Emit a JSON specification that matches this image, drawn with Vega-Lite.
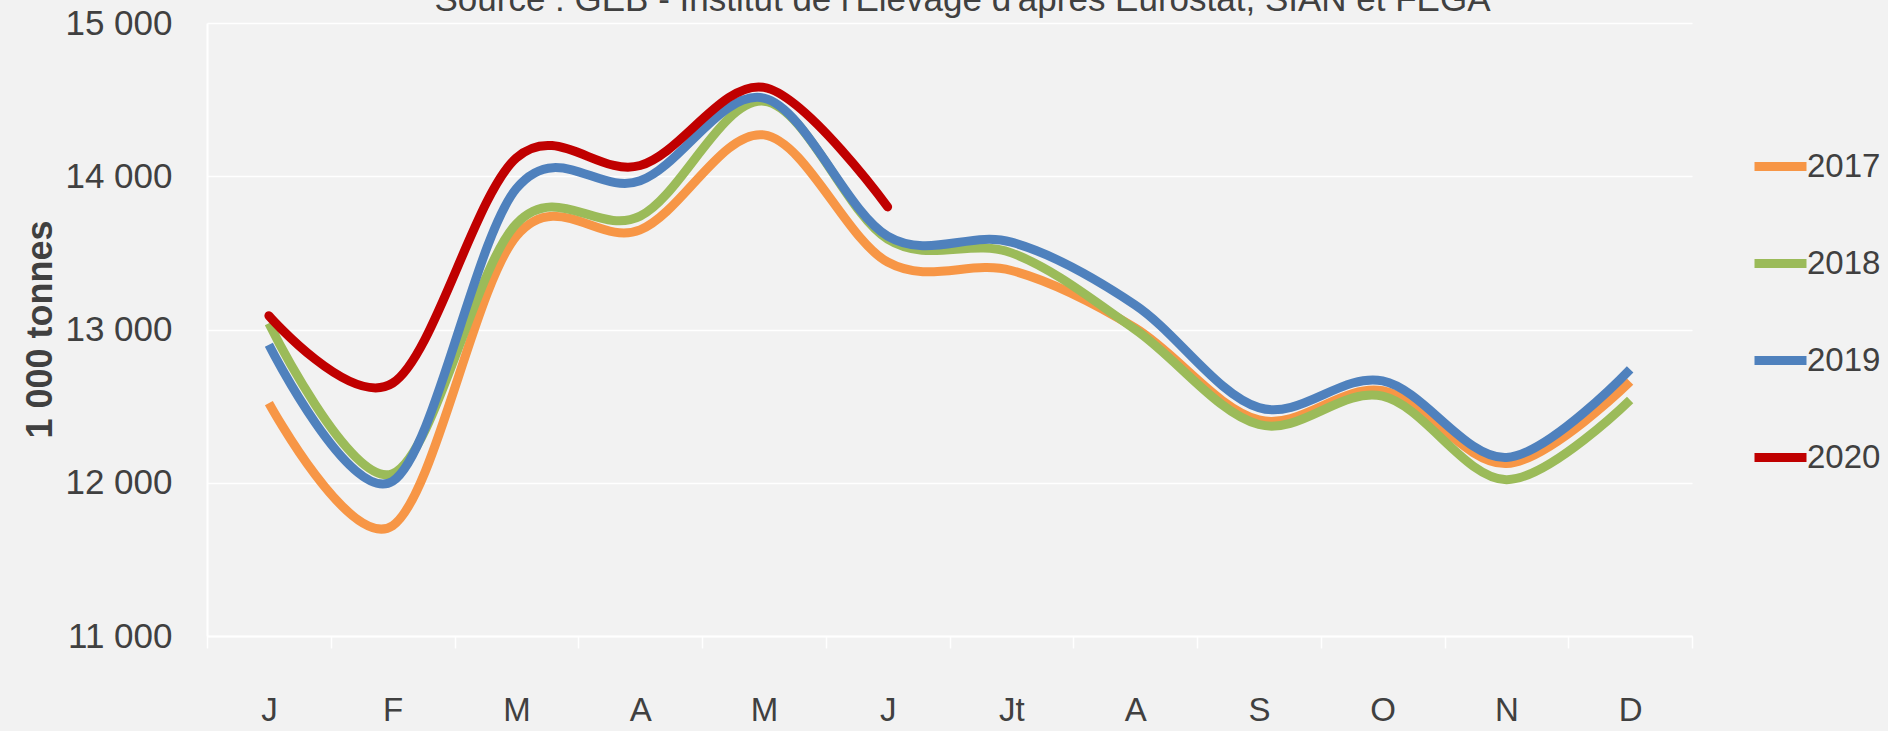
{
  "$schema": "https://vega.github.io/schema/vega-lite/v6.json",
  "autosize": {"type": "none"},
  "width": 1485,
  "height": 613,
  "padding": {"left": 207, "top": 23, "right": 196, "bottom": 95},
  "background": "#f2f2f2",
  "title": {
    "text": "Source : GEB - Institut de l'Elevage d'après Eurostat, SIAN et FEGA",
    "font": "Liberation Sans",
    "fontSize": 35,
    "fontWeight": "normal",
    "color": "#404040",
    "anchor": "middle",
    "frame": "group",
    "baseline": "alphabetic",
    "dx": 13,
    "dy": 40,
    "offset": 0
  },
  "data": {
    "values": [
      {"annee": "2017", "m": 1, "v": 12520}, {"annee": "2017", "m": 2, "v": 11720}, {"annee": "2017", "m": 3, "v": 13610}, {"annee": "2017", "m": 4, "v": 13650}, {"annee": "2017", "m": 5, "v": 14270}, {"annee": "2017", "m": 6, "v": 13440}, {"annee": "2017", "m": 7, "v": 13385}, {"annee": "2017", "m": 8, "v": 13010}, {"annee": "2017", "m": 9, "v": 12410}, {"annee": "2017", "m": 10, "v": 12600}, {"annee": "2017", "m": 11, "v": 12125}, {"annee": "2017", "m": 12, "v": 12660},
      {"annee": "2018", "m": 1, "v": 13040}, {"annee": "2018", "m": 2, "v": 12060}, {"annee": "2018", "m": 3, "v": 13690}, {"annee": "2018", "m": 4, "v": 13740}, {"annee": "2018", "m": 5, "v": 14490}, {"annee": "2018", "m": 6, "v": 13590}, {"annee": "2018", "m": 7, "v": 13500}, {"annee": "2018", "m": 8, "v": 13000}, {"annee": "2018", "m": 9, "v": 12380}, {"annee": "2018", "m": 10, "v": 12565}, {"annee": "2018", "m": 11, "v": 12020}, {"annee": "2018", "m": 12, "v": 12540},
      {"annee": "2019", "m": 1, "v": 12900}, {"annee": "2019", "m": 2, "v": 12010}, {"annee": "2019", "m": 3, "v": 13920}, {"annee": "2019", "m": 4, "v": 13970}, {"annee": "2019", "m": 5, "v": 14510}, {"annee": "2019", "m": 6, "v": 13610}, {"annee": "2019", "m": 7, "v": 13570}, {"annee": "2019", "m": 8, "v": 13160}, {"annee": "2019", "m": 9, "v": 12490}, {"annee": "2019", "m": 10, "v": 12665}, {"annee": "2019", "m": 11, "v": 12165}, {"annee": "2019", "m": 12, "v": 12740},
      {"annee": "2020", "m": 1, "v": 13090}, {"annee": "2020", "m": 2, "v": 12650}, {"annee": "2020", "m": 3, "v": 14120}, {"annee": "2020", "m": 4, "v": 14070}, {"annee": "2020", "m": 5, "v": 14580}, {"annee": "2020", "m": 6, "v": 13800}
    ]
  },
  "encoding": {
    "x": {
      "field": "m",
      "type": "ordinal",
      "scale": {"domain": [1,2,3,4,5,6,7,8,9,10,11,12], "paddingInner": 0, "paddingOuter": 0},
      "axis": {
        "title": null,
        "labelAngle": 0,
        "labelExpr": "['J','F','M','A','M','J','Jt','A','S','O','N','D'][datum.value - 1]",
        "labelFont": "Liberation Sans",
        "labelFontSize": 33,
        "labelColor": "#404040",
        "labelBaseline": "alphabetic",
        "labelPadding": 72,
        "tickBand": "extent",
        "tickSize": 12,
        "tickColor": "#ffffff",
        "tickWidth": 1.5,
        "domainColor": "#ffffff",
        "domainWidth": 2,
        "grid": false
      }
    },
    "y": {
      "field": "v",
      "type": "quantitative",
      "scale": {"domain": [11000, 15000], "nice": false, "zero": false},
      "axis": {
        "values": [11000, 12000, 13000, 14000, 15000],
        "labelExpr": "replace(format(datum.value, ','), ',', ' ')",
        "labelFont": "Liberation Sans",
        "labelFontSize": 35,
        "labelColor": "#404040",
        "labelPadding": 35,
        "ticks": false,
        "tickSize": 0,
        "domain": true,
        "domainColor": "#ffffff",
        "domainWidth": 2,
        "grid": true,
        "gridColor": "#ffffff",
        "gridWidth": 1.5,
        "title": "1 000  tonnes",
        "titleFont": "Liberation Sans",
        "titleFontSize": 36,
        "titleFontWeight": "bold",
        "titleColor": "#404040",
        "titleAngle": -90,
        "titleAlign": "center",
        "titleBaseline": "middle",
        "titleX": -167,
        "titleY": 306
      }
    },
    "color": {
      "field": "annee",
      "type": "nominal",
      "scale": {"domain": ["2017", "2018", "2019", "2020"], "range": ["#F79646", "#9BBB59", "#4F81BD", "#C00000"]},
      "legend": {
        "title": null,
        "orient": "none",
        "legendX": 1543,
        "legendY": 113,
        "symbolType": "stroke",
        "symbolSize": 2704,
        "symbolStrokeWidth": 9,
        "labelFont": "Liberation Sans",
        "labelFontSize": 33,
        "labelColor": "#404040",
        "labelOffset": -4,
        "rowPadding": 48
      }
    }
  },
  "layer": [
    {
      "transform": [{"filter": "datum.annee != '2020'"}],
      "mark": {"type": "line", "interpolate": "cardinal", "strokeWidth": 9, "strokeCap": "butt"}
    },
    {
      "transform": [{"filter": "datum.annee == '2020'"}],
      "mark": {"type": "line", "interpolate": "cardinal", "strokeWidth": 9, "strokeCap": "round"}
    }
  ],
  "config": {
    "view": {"stroke": null},
    "font": "Liberation Sans"
  }
}
